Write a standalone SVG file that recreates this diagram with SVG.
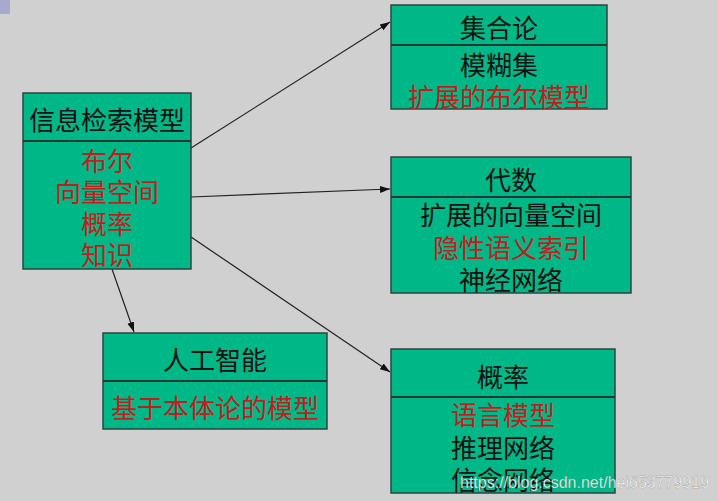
<svg xmlns="http://www.w3.org/2000/svg" width="718" height="501" viewBox="0 0 718 501">
<style>
.box{fill:#00b887;stroke:#2b4640;stroke-width:1.5}
.div{stroke:#1f3a34;stroke-width:2}
text{font-family:"Noto Sans CJK SC","Liberation Sans",sans-serif;font-size:26px;text-anchor:middle;dominant-baseline:central}
.k{fill:#111}
.r{fill:#c41c1c}
.edge{stroke:#222;stroke-width:1.2;fill:none;marker-end:url(#ah)}
.wm{font-family:"Liberation Sans",Arial,sans-serif;font-size:16px;fill:#ffffff;fill-opacity:0.92;text-anchor:start;dominant-baseline:alphabetic;stroke:#666;stroke-width:0.4;stroke-opacity:0.6}
</style>
<defs>
<marker id="ah" viewBox="0 0 10 10" refX="10" refY="5" markerWidth="10" markerHeight="10" markerUnits="userSpaceOnUse" orient="auto">
<path d="M0,1.5 L10,5 L0,8.5 Z" fill="#111"/>
</marker>
</defs>
<rect width="718" height="501" fill="#d0d0d0"/>
<rect x="0" y="0" width="10" height="14" fill="#a9a9cf"/>
<g id="connectors">
<line class="edge" x1="191" y1="148" x2="390" y2="22"/>
<line class="edge" x1="191" y1="197" x2="390" y2="189"/>
<line class="edge" x1="191" y1="237" x2="390" y2="372"/>
<line class="edge" x1="112" y1="269" x2="134" y2="332"/>
</g>
<g id="n-ir">
<rect class="box" x="23" y="93" width="168" height="176"/>
<line class="div" x1="23" y1="141" x2="191" y2="141"/>
<text class="k" x="107" y="118">信息检索模型</text>
<text class="r" x="107" y="159">布尔</text>
<text class="r" x="107" y="190">向量空间</text>
<text class="r" x="107" y="222">概率</text>
<text class="r" x="107" y="253">知识</text>
</g>
<g id="n-set">
<rect class="box" x="391" y="5" width="216" height="104"/>
<line class="div" x1="391" y1="45" x2="607" y2="45"/>
<text class="k" x="499" y="26">集合论</text>
<text class="k" x="499" y="63">模糊集</text>
<text class="r" x="499" y="95">扩展的布尔模型</text>
</g>
<g id="n-alg">
<rect class="box" x="391" y="157" width="240" height="136"/>
<line class="div" x1="391" y1="197" x2="631" y2="197"/>
<text class="k" x="511" y="178">代数</text>
<text class="k" x="511" y="213">扩展的向量空间</text>
<text class="r" x="511" y="246">隐性语义索引</text>
<text class="k" x="511" y="278">神经网络</text>
</g>
<g id="n-ai">
<rect class="box" x="103" y="333" width="224" height="96"/>
<line class="div" x1="103" y1="381" x2="327" y2="381"/>
<text class="k" x="215" y="358">人工智能</text>
<text class="r" x="215" y="406">基于本体论的模型</text>
</g>
<g id="n-prob">
<rect class="box" x="391" y="349" width="224" height="144"/>
<line class="div" x1="391" y1="397" x2="615" y2="397"/>
<text class="k" x="503" y="375">概率</text>
<text class="r" x="503" y="413">语言模型</text>
<text class="k" x="503" y="446">推理网络</text>
<text class="k" x="503" y="478">信念网络</text>
</g>
<text class="wm" x="460" y="488">https://blog.csdn.net/hei653779919</text>
</svg>
